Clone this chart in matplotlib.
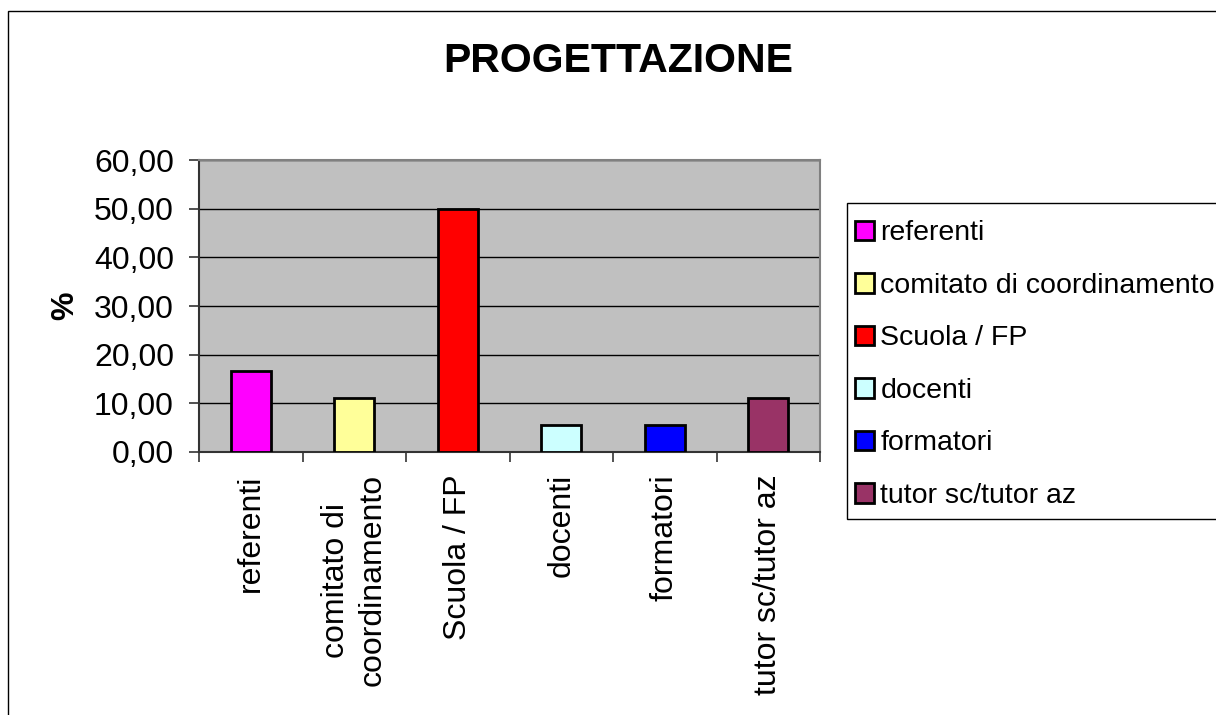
import matplotlib
matplotlib.use("Agg")
import matplotlib.pyplot as plt
from matplotlib.patches import Rectangle, Patch
from matplotlib.ticker import FuncFormatter, FixedLocator

plt.rcParams['font.family'] = ['Liberation Sans', 'DejaVu Sans']

categories = ["referenti", "comitato di\ncoordinamento", "Scuola / FP", "docenti", "formatori", "tutor sc/tutor az"]
legend_labels = ["referenti", "comitato di coordinamento", "Scuola / FP", "docenti", "formatori", "tutor sc/tutor az"]
values = [16.67, 11.11, 50.00, 5.56, 5.56, 11.11]
colors = ["#FF00FF", "#FFFF99", "#FF0000", "#CCFFFF", "#0000FF", "#993366"]
yticks = [0, 10, 20, 30, 40, 50, 60]

W, H = 1216, 715
fig = plt.figure(figsize=(W / 100, H / 100), dpi=100)
fig.patch.set_facecolor("white")

# outer frame
fig.add_artist(Rectangle((8 / W, -0.2), 1.2, 1 - 11 / H + 0.2, transform=fig.transFigure,
                         fill=False, edgecolor="black", linewidth=1.0))

ax = fig.add_axes([199 / W, 1 - 452 / H, 621 / W, 292 / H])
ax.set_facecolor("#C0C0C0")
x = list(range(len(categories)))
ax.bar(x, values, width=0.39, color=colors, edgecolor="black", linewidth=2.0, zorder=3)
ax.set_xlim(-0.5, len(categories) - 0.5)
ax.set_ylim(0, 60)
ax.set_yticks(yticks)
ax.yaxis.set_major_formatter(FuncFormatter(lambda v, p: f"{v:.2f}".replace(".", ",")))
ax.grid(axis="y", color="black", linewidth=1.0, zorder=1)
ax.set_axisbelow(True)

ax.set_xticks(x)
ax.set_xticklabels(categories, rotation=90, va="top", ha="center", fontsize=23,
                   multialignment="center", linespacing=1.3)
ax.xaxis.set_minor_locator(FixedLocator([i - 0.5 for i in range(len(categories) + 1)]))
ax.tick_params(axis="x", which="major", length=0, pad=16)
ax.tick_params(axis="x", which="minor", length=7, width=1.2, color="#333333")
ax.tick_params(axis="y", which="major", length=7, width=1.2, color="#333333", labelsize=23, pad=11)

for s in ["top", "right"]:
    ax.spines[s].set_color("#808080")
    ax.spines[s].set_linewidth(1.5)
for s in ["left", "bottom"]:
    ax.spines[s].set_color("#333333")
    ax.spines[s].set_linewidth(1.5)

ax.set_ylabel("%", fontsize=23, fontweight="bold", labelpad=10)

fig.text(618 / W, 1 - 61 / H, "PROGETTAZIONE", fontsize=29.5, fontweight="bold", ha="center", va="center")

# legend frame (extends past the right edge as in the reference)
fig.add_artist(Rectangle((847 / W, 1 - 519 / H), 0.5, (519 - 203) / H, transform=fig.transFigure,
                         fill=True, facecolor="white", edgecolor="black", linewidth=1.0, zorder=2))

handles = [Patch(facecolor=c, edgecolor="black", linewidth=2.0) for c in colors]
leg = fig.legend(handles, legend_labels, loc="upper left", bbox_to_anchor=(855 / W, 1 - 220.5 / H),
                 fontsize=20.5, frameon=False,
                 handlelength=0.67, handleheight=0.67, handletextpad=0.22,
                 labelspacing=0.93, borderpad=0.0, borderaxespad=0)
leg.set_zorder(3)

fig.savefig("out.png", dpi=100)
